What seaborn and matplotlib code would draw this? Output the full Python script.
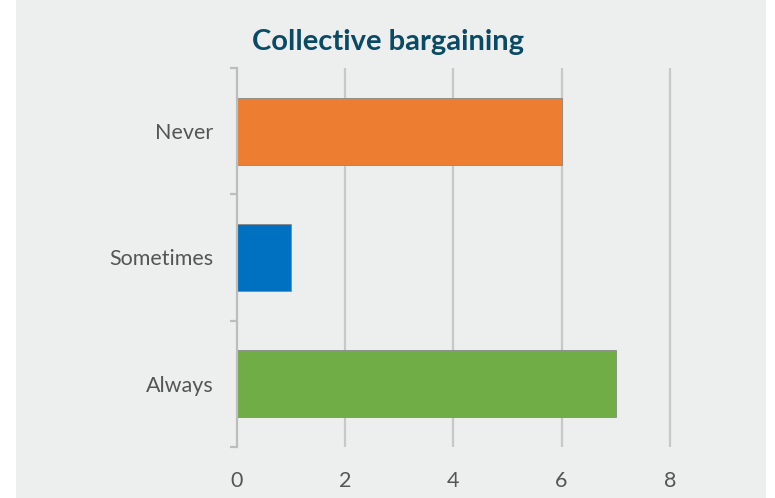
import matplotlib
matplotlib.use("Agg")
import matplotlib.pyplot as plt
import seaborn as sns
import pandas as pd
from matplotlib.patches import Rectangle

categories = ["Never", "Sometimes", "Always"]
values = [6, 1, 7]
colors = ["#ED7D31", "#0070C0", "#70AD47"]
xticks = [0, 2, 4, 6, 8]
title = "Collective bargaining"

sns.set_theme(style="white")
plt.rcParams['font.family'] = ['Source Sans Pro', 'Lato', 'DejaVu Sans']

fig = plt.figure(figsize=(7.75, 4.98), dpi=100)
fig.patch.set_facecolor("white")
bg = "#EDEFEE"
fig.patches.append(Rectangle((16/775, 0), 750/775, 1, transform=fig.transFigure,
                             facecolor=bg, edgecolor="none", zorder=-10))

ax = fig.add_axes([237/775, 1-447/498, (680-237)/775, (447-68)/498])
ax.set_facecolor("none")

df = pd.DataFrame({"category": categories, "value": values})
sns.barplot(data=df, x="value", y="category", hue="category", palette=colors,
            orient="h", width=0.53, legend=False, ax=ax, saturation=1,
            linewidth=0.6, edgecolor="#888888")

ax.set_xlim(0, 8.19)
ax.set_ylim(2.5, -0.5)
ax.set_xticks(xticks)
ax.set_xticklabels([str(t) for t in xticks])
ax.set_xlabel("")
ax.set_ylabel("")

for x in xticks[1:]:
    ax.axvline(x, color="#C8C8C8", lw=1.6, zorder=0)

for s in ["top", "right", "bottom"]:
    ax.spines[s].set_visible(False)
ax.spines["left"].set_color("#BDBDBD")
ax.spines["left"].set_linewidth(1.6)

ax.tick_params(axis="x", length=0, pad=17, labelsize=15.5, labelcolor="#555555")
ax.tick_params(axis="y", which="major", length=0, pad=17, labelsize=15.5, labelcolor="#555555")
ax.set_yticks([-0.5, 0.5, 1.5, 2.5], minor=True)
ax.tick_params(axis="y", which="minor", length=5, width=1.6, color="#BDBDBD", left=True)

fig.text(388/775, 1-42/498, title, ha="center", va="center", fontsize=21,
         fontweight="bold", color="#0B4A64")

fig.savefig("out.png", dpi=100)
